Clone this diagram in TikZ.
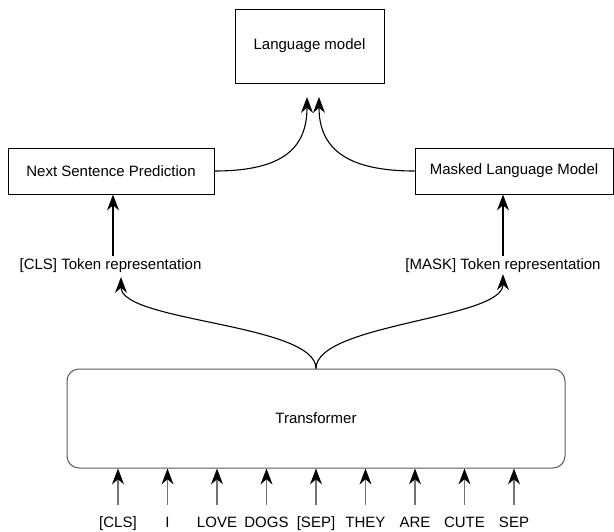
\documentclass[tikz,border=0pt]{standalone}
\usepackage{fontspec}
\setmainfont{Liberation Sans}
\usepackage{tikz}
\usetikzlibrary{arrows.meta, positioning, calc}

\begin{document}
\begin{tikzpicture}[
          every node/.style={font=\fontsize{15}{18}\selectfont},
          block/.style={draw, line width=1pt, minimum height=46pt},
          plain/.style={inner sep=2pt, text height=11pt, text depth=3pt},
          link/.style={->, draw, line width=1.1pt},
          feed/.style={draw=black!55, line width=1.1pt, -{Stealth[scale=2, black]}, shorten <=9pt},
          >={Stealth[scale=2]}
        ]
        \useasboundingbox (0pt,0pt) rectangle (614pt,-531pt);

        % heads and language model
        \node [block, minimum width=149pt, minimum height=74pt] (lm) at (309.5pt,-46pt) {Language model};
        \node [block, minimum width=206pt] (nsp) at (111pt,-171pt) {Next Sentence Prediction};
        \node [block, minimum width=198pt] (mlm) at (514pt,-171pt) {Masked Language Model};

        % token representations
        \node [plain] (cls) at (110.5pt,-265pt) {[CLS] Token representation};
        \node [plain] (mask) at (503pt,-265pt) {[MASK] Token representation};

        % encoder
        \node [draw=black!65, line width=1pt, rounded corners=12pt,
               minimum width=498pt, minimum height=99pt] (trans) at (316pt,-418.5pt) {Transformer};

        % input tokens
        \foreach \tok [count=\i] in {[CLS], I, LOVE, DOGS, [SEP], THEY, ARE, CUTE, SEP} {
          \node [plain, anchor=base] (tok\i) at ({118pt+49.5pt*(\i-1)},-527pt) {\tok};
          \draw [feed] (tok\i.north) -- (tok\i.north |- trans.south);
        }

        \coordinate (lmin1) at (307pt,-97pt);
        \coordinate (lmin2) at (319pt,-97pt);
        \coordinate (clsin) at (121pt,-277pt);

        \draw [link] (nsp.east) .. controls +(70pt,0pt) and +(0pt,-50pt) .. (lmin1);
        \draw [link] (mlm.west) .. controls +(-70pt,0pt) and +(0pt,-50pt) .. (lmin2);

        \draw [link] ([xshift=2.5pt]cls.north) -- ([xshift=2.5pt]cls.north |- nsp.south);
        \draw [link] (mask.north) -- (mask.north |- mlm.south);

        \draw [link] (trans.north) .. controls +(0pt,45pt) and +(0pt,-45pt) .. (clsin);
        \draw [link] (trans.north) .. controls +(0pt,45pt) and +(0pt,-45pt) .. (mask.south);
        \end{tikzpicture}
\end{document}
